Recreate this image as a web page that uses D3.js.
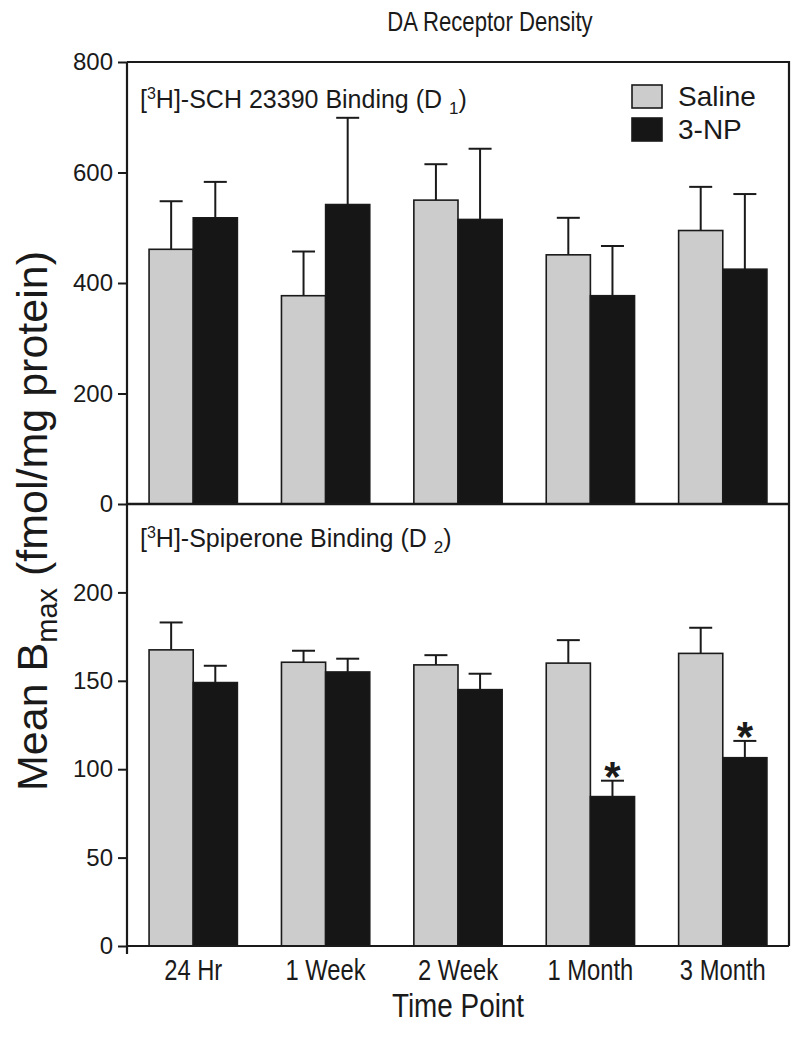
<!DOCTYPE html>
<html>
<head>
<meta charset="utf-8">
<script src="https://cdn.jsdelivr.net/npm/d3@7"></script>
<style>
  body { margin: 0; background: #fff; }
  text { font-family: "Liberation Sans", Arial, sans-serif; fill: #1a1a1a; }
</style>
</head>
<body>
<script>
// data
var categories = ["24 Hr", "1 Week", "2 Week", "1 Month", "3 Month"];
var groups = ["Saline", "3-NP"];

// D1 panel, [3H]-SCH 23390
var d1Saline    = [461, 377, 550, 451, 495];
var d1SalineErr = [87, 80, 65, 67, 79];
var d1NP        = [518, 542, 515, 377, 425];
var d1NPErr     = [65, 157, 128, 90, 136];

// D2 panel, [3H]-Spiperone
var d2Saline    = [167.5, 160.5, 159, 160, 165.5];
var d2SalineErr = [15.5, 6.5, 5.5, 13, 14.5];
var d2NP        = [149, 155, 145, 84.5, 106.5];
var d2NPErr     = [9.5, 7.5, 9, 9, 9.5];
var d2Sig       = [false, false, false, true, true];

var d1Ticks = [0, 200, 400, 600, 800];
var d2Ticks = [0, 50, 100, 150, 200];

var colors = {"Saline": "#cccccc", "3-NP": "#161616"};

var W = 800, H = 1042;
var left = 127, right = 789;
var topY = 62, midY = 504, botY = 946;
var narrow = 0.82; // fake a condensed face, no Arial Narrow here

var svg = d3.select("body").append("svg")
    .attr("width", W)
    .attr("height", H);

var x0 = d3.scaleBand()
    .domain(categories)
    .range([left, right])
    .paddingInner(0.333)
    .paddingOuter(0.1667);

var x1 = d3.scaleBand()
    .domain(groups)
    .range([0, x0.bandwidth()]);

function cx(d) { return x0(d.cat) + x1(d.grp) + x1.bandwidth() / 2; }

function drawPanel(cfg) {
    var y = d3.scaleLinear().domain(cfg.domain).range([cfg.y1, cfg.y0]);

    var rows = categories.map(function(c, i) {
        return [
            {cat: c, grp: "Saline", v: cfg.saline[i], e: cfg.salineErr[i], sig: false},
            {cat: c, grp: "3-NP", v: cfg.np[i], e: cfg.npErr[i], sig: cfg.sig ? cfg.sig[i] : false}
        ];
    });
    var flat = d3.merge(rows);

    var g = svg.append("g");

    // error bars (upper only)
    var eb = g.selectAll(".err").data(flat).enter().append("g").attr("class", "err");
    eb.append("line")
        .attr("x1", cx).attr("x2", cx)
        .attr("y1", function(d) { return y(d.v); })
        .attr("y2", function(d) { return y(d.v + d.e); })
        .attr("stroke", "#1a1a1a").attr("stroke-width", 2);
    eb.append("line")
        .attr("x1", function(d) { return cx(d) - 11.5; })
        .attr("x2", function(d) { return cx(d) + 11.5; })
        .attr("y1", function(d) { return y(d.v + d.e); })
        .attr("y2", function(d) { return y(d.v + d.e); })
        .attr("stroke", "#1a1a1a").attr("stroke-width", 2);

    g.selectAll("rect.bar").data(flat).enter().append("rect")
        .attr("class", "bar")
        .attr("x", function(d) { return x0(d.cat) + x1(d.grp); })
        .attr("y", function(d) { return y(d.v); })
        .attr("width", x1.bandwidth())
        .attr("height", function(d) { return y(cfg.domain[0]) - y(d.v); })
        .attr("fill", function(d) { return colors[d.grp]; })
        .attr("stroke", "#1a1a1a")
        .attr("stroke-width", 1.6);

    // significance stars
    g.selectAll("text.star").data(flat.filter(function(d) { return d.sig; })).enter().append("text")
        .attr("class", "star")
        .attr("x", cx)
        .attr("y", function(d) { return y(d.v + d.e) - 14 + 0.57 * 42; })
        .attr("text-anchor", "middle")
        .style("font-size", "42px")
        .style("font-weight", "bold")
        .text("*");

    var ax = svg.append("g")
        .attr("transform", "translate(" + left + ",0)")
        .call(d3.axisLeft(y).tickValues(cfg.ticks).tickSize(9).tickPadding(5).tickSizeOuter(0));
    ax.select(".domain").remove();
    ax.selectAll(".tick line").attr("stroke", "#1a1a1a").attr("stroke-width", 2);
    ax.selectAll(".tick text")
        .style("font-family", "'Liberation Sans', Arial, sans-serif")
        .style("font-size", "24px")
        .attr("fill", "#1a1a1a");

    // panel label
    var lab = svg.append("text")
        .attr("x", 140)
        .attr("y", cfg.labelY)
        .style("font-size", "25px");
    lab.append("tspan").text("[");
    lab.append("tspan").attr("dy", -9).style("font-size", "16px").text("3");
    lab.append("tspan").attr("dy", 9).text("H]-" + cfg.label + " (D ");
    lab.append("tspan").attr("dy", 6).style("font-size", "17px").text(cfg.sub);
    lab.append("tspan").attr("dy", -6).text(")");

    return y;
}

drawPanel({
    domain: [0, 800], y0: topY, y1: midY,
    saline: d1Saline, salineErr: d1SalineErr, np: d1NP, npErr: d1NPErr,
    ticks: d1Ticks, label: "SCH 23390 Binding", sub: "1", labelY: 108
});
drawPanel({
    domain: [0, 250], y0: midY, y1: botY,
    saline: d2Saline, salineErr: d2SalineErr, np: d2NP, npErr: d2NPErr, sig: d2Sig,
    ticks: d2Ticks, label: "Spiperone Binding", sub: "2", labelY: 547
});

// frame lines
var frame = svg.append("g").attr("stroke", "#1a1a1a").attr("stroke-width", 2.2).attr("fill", "none");
frame.append("path").attr("d", "M" + left + "," + topY + "H" + right + "V" + botY);
frame.append("path").attr("d", "M" + left + "," + topY + "V" + (botY + 8));
frame.append("path").attr("d", "M" + left + "," + midY + "H" + right).attr("stroke-width", 2.6);
frame.append("path").attr("d", "M" + left + "," + botY + "H" + right);

// x axis labels
var xa = svg.append("g")
    .attr("transform", "translate(0," + botY + ")")
    .call(d3.axisBottom(x0).tickSize(0).tickPadding(13));
xa.select(".domain").remove();
xa.selectAll(".tick text")
    .attr("transform", "scale(" + narrow + ",1)")
    .style("font-size", "29px")
    .attr("fill", "#1a1a1a");

// legend
var leg = svg.append("g").attr("transform", "translate(632,85)");
groups.forEach(function(gname, i) {
    leg.append("rect")
        .attr("x", 0).attr("y", i * 33)
        .attr("width", 30).attr("height", 23)
        .attr("fill", colors[gname])
        .attr("stroke", "#1a1a1a").attr("stroke-width", 1.6);
    leg.append("text")
        .attr("x", 46).attr("y", i * 33 + 21)
        .style("font-size", "28px")
        .text(gname);
});

// title
svg.append("text")
    .attr("transform", "translate(490,31) scale(" + narrow + ",1)")
    .attr("text-anchor", "middle")
    .style("font-size", "27px")
    .text("DA Receptor Density");

// x title
svg.append("text")
    .attr("transform", "translate(" + ((left + right) / 2) + ",1017) scale(" + narrow + ",1)")
    .attr("text-anchor", "middle")
    .style("font-size", "34px")
    .text("Time Point");

// y title
var yl = svg.append("text")
    .attr("transform", "translate(47,521) rotate(-90)")
    .attr("text-anchor", "middle")
    .style("font-size", "43px");
yl.append("tspan").text("Mean B");
yl.append("tspan").attr("dy", 10).style("font-size", "29px").text("max");
yl.append("tspan").attr("dy", -10).text(" (fmol/mg protein)");
</script>
</body>
</html>
